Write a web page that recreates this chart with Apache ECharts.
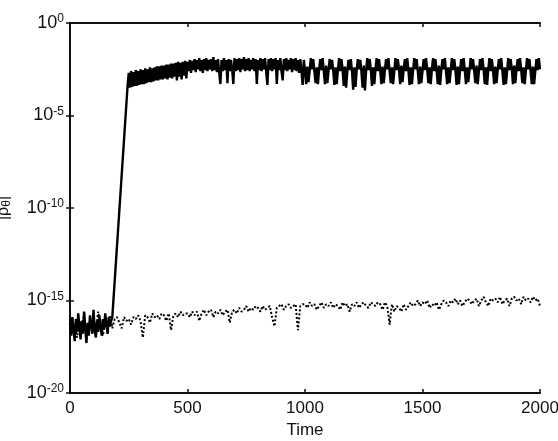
<!DOCTYPE html>
<html><head><meta charset="utf-8">
<script src="https://cdn.jsdelivr.net/npm/echarts@6/dist/echarts.min.js"></script>
<style>html,body{margin:0;padding:0;background:#fff}#c{width:558px;height:441px}</style>
</head><body><div id="c"></div>
<script>
// x ticks
const xTicks = [0, 500, 1000, 1500, 2000];
// y ticks (log10 exponents)
const yTickExps = [-20, -15, -10, -5, 0];

// Solid series: early noise, t = 0,5,...,180 (log10 values)
const solidEarlyStep = 5;
const solidEarly = [
 -16.2,-16.9,-15.9,-16.6,-17.2,-16.0,-16.7,-15.7,-16.4,-17.1,
 -16.1,-16.8,-15.6,-16.5,-17.3,-16.2,-16.9,-15.8,-16.3,-16.8,
 -15.5,-16.6,-17.0,-16.1,-16.7,-15.8,-16.4,-16.9,-16.0,-16.5,
 -15.7,-16.3,-16.8,-15.9,-16.4,-16.1,-15.9
];
// Solid series after the jump: t = 245,250,...,2000 (log10 values)
const solidLateStart = 245;
const solidLateStep = 5;
const solidLate = [
 -3.4,
 -2.7,-3.5,-2.6,-3.45,-2.65,-3.4,-2.55,-3.4,-2.6,-3.35,
 -2.5,-3.3,-2.55,-3.3,-2.45,-3.25,-2.5,-3.2,-2.4,-3.2,
 -2.45,-3.15,-2.4,-3.1,-2.35,-3.1,-2.35,-3.05,-2.3,-3.05,
 -2.3,-3.0,-2.25,-3.05,-2.25,-2.95,-2.2,-3.0,-2.2,-2.9,
 -2.15,-3.1,-2.1,-2.9,-2.15,-3.05,-2.1,-2.85,-2.05,-3.0,-2.1,
 // 505..1000
 -2.6,-2.0,-2.7,-2.05,-2.55,-1.95,-2.65,-2.0,-2.5,-1.9,
 -2.6,-2.0,-2.7,-1.95,-2.55,-1.9,-2.6,-2.0,-2.5,-1.95,
 -2.6,-1.85,-2.55,-2.0,-2.65,-1.95,-2.7,-3.3,-2.0,-2.6,
 -1.9,-2.55,-2.0,-3.25,-1.95,-2.6,-2.0,-2.5,-3.3,-1.9,
 -2.6,-1.95,-2.55,-1.9,-2.65,-1.95,-2.5,-1.85,-2.6,-1.95,
 -2.55,-1.9,-2.6,-2.0,-2.5,-1.9,-2.6,-1.95,-3.3,-2.0,
 -2.55,-1.9,-2.6,-1.95,-2.5,-1.9,-2.65,-3.35,-1.95,-2.55,
 -1.9,-2.6,-1.95,-2.5,-1.9,-3.3,-2.0,-2.55,-1.9,-2.6,
 -3.1,-1.95,-2.55,-1.9,-2.6,-2.0,-2.5,-1.9,-2.65,-1.95,
 -2.55,-1.9,-2.6,-2.0,-2.7,-1.95,-2.6,-3.35,-2.0,-2.55,
 // 1005..2000 (periodic bursts)
 -3.3,-2.35,-3.2,-2.55,-1.9,-2.5,-1.95,-2.6,
 -3.25,-2.4,-3.3,-2.5,-1.95,-2.55,-1.9,-2.6,
 -3.3,-2.3,-3.25,-2.6,-1.95,-2.5,-2.0,-2.55,
 -3.35,-2.4,-3.3,-2.55,-1.9,-2.6,-1.95,-2.5,
 -3.4,-2.35,-3.5,-2.6,-2.0,-2.55,-1.95,-2.6,
 -3.6,-2.4,-3.45,-2.55,-1.95,-2.5,-2.0,-2.6,
 -3.5,-2.3,-3.65,-2.6,-1.9,-2.55,-1.95,-2.5,
 -3.4,-2.4,-3.3,-2.5,-1.9,-2.6,-1.95,-2.55,
 -3.3,-2.35,-3.25,-2.55,-1.95,-2.5,-1.9,-2.6,
 -3.25,-2.4,-3.3,-2.6,-1.9,-2.55,-1.95,-2.5,
 -3.3,-2.3,-3.2,-2.5,-1.95,-2.6,-1.9,-2.55,
 -3.35,-2.4,-3.3,-2.55,-1.9,-2.5,-1.95,-2.6,
 -3.3,-2.35,-3.25,-2.6,-1.95,-2.55,-1.9,-2.5,
 -3.25,-2.4,-3.3,-2.5,-1.9,-2.6,-1.95,-2.55,
 -3.3,-2.3,-3.35,-2.55,-1.95,-2.5,-1.9,-2.6,
 -3.3,-2.4,-3.25,-2.6,-1.9,-2.55,-1.95,-2.5,
 -3.35,-2.35,-3.3,-2.5,-1.95,-2.6,-1.9,-2.55,
 -3.3,-2.4,-3.2,-2.55,-1.9,-2.5,-1.95,-2.6,
 -3.25,-2.3,-3.3,-2.6,-1.95,-2.55,-1.9,-2.5,
 -3.3,-2.4,-3.35,-2.5,-1.9,-2.6,-1.95,-2.55,
 -3.3,-2.35,-3.25,-2.55,-1.95,-2.5,-1.9,-2.6,
 -3.35,-2.4,-3.3,-2.6,-1.9,-2.55,-1.95,-2.5,
 -3.3,-2.3,-3.25,-2.5,-1.95,-2.6,-1.9,-2.55,
 -3.25,-2.4,-3.3,-2.55,-1.9,-2.5,-1.95,-2.6,
 -3.3,-2.35,-3.3,-2.6,-1.95,-2.55,-1.9,-2.5
];
// Dotted series: t = 0,10,...,2000 (log10 values)
const dottedStep = 10;
const dotted = [
 -16.0,-16.8,-16.3,-17.0,-16.1,-16.6,-15.7,-16.9,-16.2,-16.5,
 -16.0,-16.7,-15.6,-16.4,-16.9,-16.1,-16.3,-15.8,-16.5,-16.0,
 -15.9,-16.2,-16.5,-15.9,-16.1,-16.0,-16.3,-15.9,-16.0,-15.8,
 -16.1,-17.0,-15.8,-15.9,-16.2,-15.7,-15.9,-15.8,-16.0,-15.7,
 -15.8,-16.1,-15.7,-16.6,-15.8,-15.7,-15.9,-15.6,-15.8,-15.7,
 -15.7,-15.9,-15.6,-15.8,-15.6,-16.1,-15.7,-15.5,-15.8,-15.6,
 -15.5,-15.9,-15.6,-15.7,-15.5,-15.8,-15.6,-15.5,-16.2,-15.6,
 -15.5,-15.7,-15.4,-15.6,-15.5,-15.3,-15.6,-15.4,-15.5,-15.3,
 -15.4,-15.6,-15.3,-15.5,-15.4,-15.3,-15.9,-16.4,-15.4,-15.3,
 -15.2,-15.5,-15.3,-15.2,-15.4,-15.3,-15.2,-16.6,-15.3,-15.2,
 -15.2,-15.4,-15.1,-15.3,-15.2,-15.5,-15.3,-15.1,-15.4,-15.2,
 -15.3,-15.1,-15.4,-15.2,-15.3,-15.5,-15.1,-15.3,-15.2,-15.6,
 -15.2,-15.3,-15.1,-15.4,-15.2,-15.1,-15.3,-15.4,-15.1,-15.2,
 -15.3,-15.1,-15.2,-15.5,-15.1,-15.3,-16.3,-15.2,-15.6,-15.3,
 -15.4,-15.6,-15.2,-15.5,-15.3,-15.1,-15.3,-15.2,-15.0,-15.3,
 -15.1,-15.2,-15.0,-15.4,-15.2,-15.3,-15.1,-15.5,-15.2,-15.0,
 -15.1,-15.3,-15.0,-15.1,-14.9,-15.2,-15.0,-15.3,-15.1,-14.9,
 -15.0,-15.2,-15.0,-14.9,-15.3,-15.0,-14.8,-15.1,-15.3,-14.9,
 -15.0,-14.9,-15.1,-14.8,-15.2,-15.0,-14.9,-15.3,-14.9,-14.8,
 -15.0,-14.9,-15.2,-14.8,-15.0,-14.9,-15.1,-14.8,-15.0,-14.9,
 -15.3
];

const solidData = [];
solidEarly.forEach((e, i) => solidData.push([i * solidEarlyStep, Math.pow(10, e)]));
solidLate.forEach((e, i) => solidData.push([solidLateStart + i * solidLateStep, Math.pow(10, e)]));
const dottedData = dotted.map((e, i) => [i * dottedStep, Math.pow(10, e)]);

const FONT = "'Liberation Sans', Arial, sans-serif";
const axisLine = { show: true, lineStyle: { color: '#111', width: 2 } };
const tick = { show: true, inside: true, length: 4, lineStyle: { color: '#111', width: 1.5 } };

const chart = echarts.init(document.getElementById('c'), null, { renderer: 'canvas' });
chart.setOption({
  animation: false,
  backgroundColor: '#fff',
  grid: { left: 70, right: 18, top: 23, bottom: 48, show: false, containLabel: false, outerBoundsMode: 'none' },
  xAxis: [
    {
      type: 'value', min: xTicks[0], max: xTicks[xTicks.length - 1], interval: 500,
      position: 'bottom', axisLine, axisTick: tick, splitLine: { show: false },
      axisLabel: { fontSize: 17, color: '#111', fontFamily: FONT, margin: 7, formatter: v => String(v) },
      name: 'Time', nameLocation: 'middle', nameGap: 27,
      nameTextStyle: { fontSize: 17, color: '#111', fontFamily: FONT }
    },
    {
      type: 'value', min: xTicks[0], max: xTicks[xTicks.length - 1], interval: 500,
      position: 'top', axisLine, axisTick: tick, splitLine: { show: false },
      axisLabel: { show: false }
    }
  ],
  yAxis: [
    {
      type: 'log', logBase: 10, min: Math.pow(10, yTickExps[0]), max: Math.pow(10, yTickExps[yTickExps.length - 1]),
      interval: 5, position: 'left', axisLine, axisTick: tick, splitLine: { show: false }, minorTick: { show: false },
      axisLabel: {
        margin: 6, fontFamily: FONT,
        formatter: v => '{b|10}{e|' + Math.round(Math.log10(v)) + '}',
        rich: {
          b: { fontSize: 18, color: '#111', fontFamily: FONT, lineHeight: 20 },
          e: { fontSize: 12, color: '#111', fontFamily: FONT, verticalAlign: 'top', lineHeight: 20, padding: [0, 0, 9, 0] }
        }
      },
      name: '{a||ρ}{s|θ}{a||}', nameLocation: 'middle', nameGap: 57, nameRotate: 90,
      nameTextStyle: {
        rich: {
          a: { fontSize: 16, color: '#111', fontFamily: FONT },
          s: { fontSize: 12, color: '#111', fontFamily: FONT, padding: [6, 0, 0, 0] }
        }
      }
    },
    {
      type: 'log', logBase: 10, min: Math.pow(10, yTickExps[0]), max: Math.pow(10, yTickExps[yTickExps.length - 1]),
      interval: 5, position: 'right', axisLine, axisTick: tick, splitLine: { show: false }, minorTick: { show: false },
      axisLabel: { show: false }
    }
  ],
  series: [
    {
      type: 'line', data: dottedData, showSymbol: false, symbol: 'none',
      lineStyle: { color: '#000', width: 2, type: [2, 2] }, z: 2
    },
    {
      type: 'line', data: solidData, showSymbol: false, symbol: 'none',
      lineStyle: { color: '#000', width: 2.4 }, z: 3
    }
  ]
});
</script>
</body></html>
